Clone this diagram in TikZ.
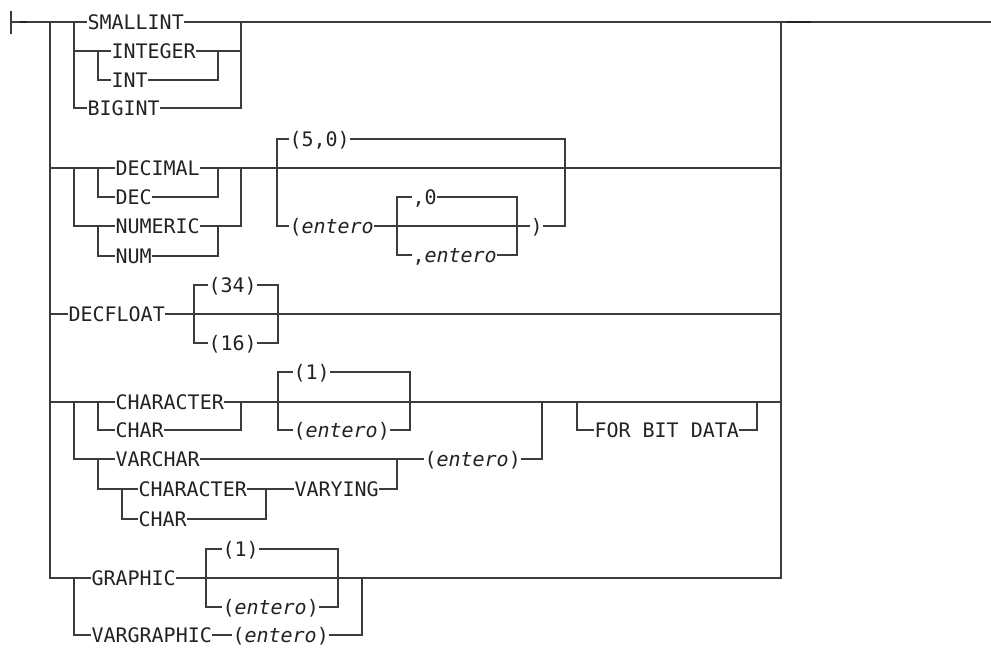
\documentclass[tikz,border=0pt]{standalone}
\usepackage{fontspec}
\usepackage{tikz}
\usetikzlibrary{calc}
\newfontfamily\rrfont{DejaVu Sans Mono}
\definecolor{railgray}{HTML}{3C3C3C}
\definecolor{ink}{HTML}{222222}
\tikzset{
    every picture/.style={line join=miter},
    rail/.style={draw=railgray,line width=1.2pt},
    stub/.style={draw=ink,line width=2.6pt,line cap=butt},
    kw/.style={anchor=west,inner xsep=0.5pt,inner ysep=0pt,outer sep=0pt,
      text height=14.6pt,text depth=0pt,text=ink,
      font=\rrfont\fontsize{20}{24}\selectfont},
    arg/.style={kw}
}
\newcommand{\ent}{\textit{entero}}

\begin{document}
\begin{tikzpicture}[x=1pt,y=-1pt]
  \useasboundingbox (0,0) rectangle (991,648);
  % rails (only the x of each coordinate is used)
  \coordinate (in) at (11,22);
  \coordinate (out) at (991,22);
  \coordinate (join) at (781,22);
  \coordinate (lA) at (50,22);
  \coordinate (lB) at (74,22);
  \coordinate (lC) at (98,22);
  \coordinate (lD) at (122,22);
  \coordinate (rInt) at (218,22);
  \coordinate (rNum) at (241,22);
  \coordinate (bFlL) at (194,22);
  \coordinate (bFlR) at (278,22);
  \coordinate (bScL) at (277,22);
  \coordinate (bScR) at (565,22);
  \coordinate (bCmL) at (397,22);
  \coordinate (bCmR) at (517,22);
  \coordinate (bChR) at (410,22);
  \coordinate (rVc) at (542,22);
  \coordinate (rChB) at (266,22);
  \coordinate (rVy) at (397,22);
  \coordinate (bFbL) at (577,22);
  \coordinate (bFbR) at (757,22);
  \coordinate (bGrL) at (206,22);
  \coordinate (bGrR) at (338,22);
  \coordinate (rGr) at (362,22);

  % keywords
  \node[kw] (smallint) at (87,22) {SMALLINT};
  \node[kw] (integer) at (111,51) {INTEGER};
  \node[kw] (int) at (111,80) {INT};
  \node[kw] (bigint) at (87,108) {BIGINT};
  \node[kw] (decimal) at (115,168) {DECIMAL};
  \node[kw] (dec) at (115,197) {DEC};
  \node[kw] (numeric) at (115,226) {NUMERIC};
  \node[kw] (num) at (115,256) {NUM};
  \node[arg] (fivezero) at (289,139) {(5,0)};
  \node[arg] (entA) at (289,226) {(\ent};
  \node[arg] (commazero) at (412,197) {,0};
  \node[arg] (commaent) at (412,255) {,\ent};
  \node[arg] (rparA) at (530,226) {)};
  \node[kw] (decfloat) at (68,314) {DECFLOAT};
  \node[arg] (pfour) at (208,285) {(34)};
  \node[arg] (psix) at (208,343) {(16)};
  \node[kw] (character) at (115,402) {CHARACTER};
  \node[kw] (char) at (115,430) {CHAR};
  \node[kw] (varchar) at (115,459) {VARCHAR};
  \node[arg] (poneA) at (293,372) {(1)};
  \node[arg] (entB) at (293,430) {(\ent)};
  \node[arg] (entC) at (424,459) {(\ent)};
  \node[kw] (forbit) at (594,430) {FOR BIT DATA};
  \node[kw] (characterB) at (138,489) {CHARACTER};
  \node[kw] (charB) at (138,519) {CHAR};
  \node[kw] (varying) at (294,489) {VARYING};
  \node[kw] (graphic) at (91,578) {GRAPHIC};
  \node[arg] (poneB) at (222,549) {(1)};
  \node[arg] (entD) at (222,607) {(\ent)};
  \node[kw] (vargraphic) at (91,635) {VARGRAPHIC};
  \node[arg] (entE) at (232,635) {(\ent)};

  % entry and exit
  \draw[rail] (in) ++(0,-11) -- ++(0,23);
  \draw[rail] (in) -- (smallint.west);
  \draw[rail] (smallint.east) -- (out);
  \draw[stub] ($(in)+(9,0)$) -- ++(7,0);
  \draw[stub] ($(join)+(5,0)$) -- ++(25,0);
  \draw[rail] (lA) |- (graphic.west);
  \draw[rail] (graphic.east) -| (join);

  % integers
  \draw[rail] (lB) |- (bigint.west);
  \draw[rail] (lB |- integer.west) -- (integer.west);
  \draw[rail] (lC |- integer.west) |- (int.west);
  \draw[rail] (integer.east) -- (rNum |- integer.east);
  \draw[rail] (int.east) -| (rInt |- integer.east);
  \draw[rail] (bigint.east) -| (rNum);

  % decimals
  \draw[rail] (lA |- decimal.west) -- (decimal.west);
  \draw[rail] (lC |- decimal.west) |- (dec.west);
  \draw[rail] (lB |- decimal.west) |- (numeric.west);
  \draw[rail] (lC |- numeric.west) |- (num.west);
  \draw[rail] (decimal.east) -- (join |- decimal.east);
  \draw[rail] (dec.east) -| (rInt |- decimal.east);
  \draw[rail] (num.east) -| (rInt |- numeric.east);
  \draw[rail] (numeric.east) -| (rNum |- decimal.east);
  \draw[rail] (fivezero.west) -| (bScL |- entA.west) -- (entA.west);
  \draw[rail] (fivezero.east) -| (bScR |- rparA.east) -- (rparA.east);
  \draw[rail] (entA.east) -- (rparA.west);
  \draw[rail] (commazero.west) -| (bCmL |- commaent.west) -- (commaent.west);
  \draw[rail] (commazero.east) -| (bCmR |- commaent.east) -- (commaent.east);

  % decfloat
  \draw[rail] (lA |- decfloat.west) -- (decfloat.west);
  \draw[rail] (decfloat.east) -- (join |- decfloat.east);
  \draw[rail] (pfour.west) -| (bFlL |- psix.west) -- (psix.west);
  \draw[rail] (pfour.east) -| (bFlR |- psix.east) -- (psix.east);

  % characters
  \draw[rail] (lA |- character.west) -- (character.west);
  \draw[rail] (lC |- character.west) |- (char.west);
  \draw[rail] (lB |- character.west) |- (varchar.west);
  \draw[rail] (lC |- varchar.west) |- (characterB.west);
  \draw[rail] (lD |- characterB.west) |- (charB.west);
  \draw[rail] (character.east) -- (join |- character.east);
  \draw[rail] (char.east) -| (rNum |- character.east);
  \draw[rail] (poneA.west) -| (bFlR |- entB.west) -- (entB.west);
  \draw[rail] (poneA.east) -| (bChR |- entB.east) -- (entB.east);
  \draw[rail] (varchar.east) -- (entC.west);
  \draw[rail] (entC.east) -| (rVc |- character.east);
  \draw[rail] (characterB.east) -- (varying.west);
  \draw[rail] (charB.east) -| (rChB |- characterB.east);
  \draw[rail] (varying.east) -| (rVy |- varchar.east);
  \draw[rail] (forbit.west) -| (bFbL |- character.east);
  \draw[rail] (forbit.east) -| (bFbR |- character.east);

  % graphics
  \draw[rail] (lB |- graphic.west) |- (vargraphic.west);
  \draw[rail] (poneB.west) -| (bGrL |- entD.west) -- (entD.west);
  \draw[rail] (poneB.east) -| (bGrR |- entD.east) -- (entD.east);
  \draw[rail] (vargraphic.east) -- (entE.west);
  \draw[rail] (entE.east) -| (rGr |- graphic.east);
\end{tikzpicture}
\end{document}
